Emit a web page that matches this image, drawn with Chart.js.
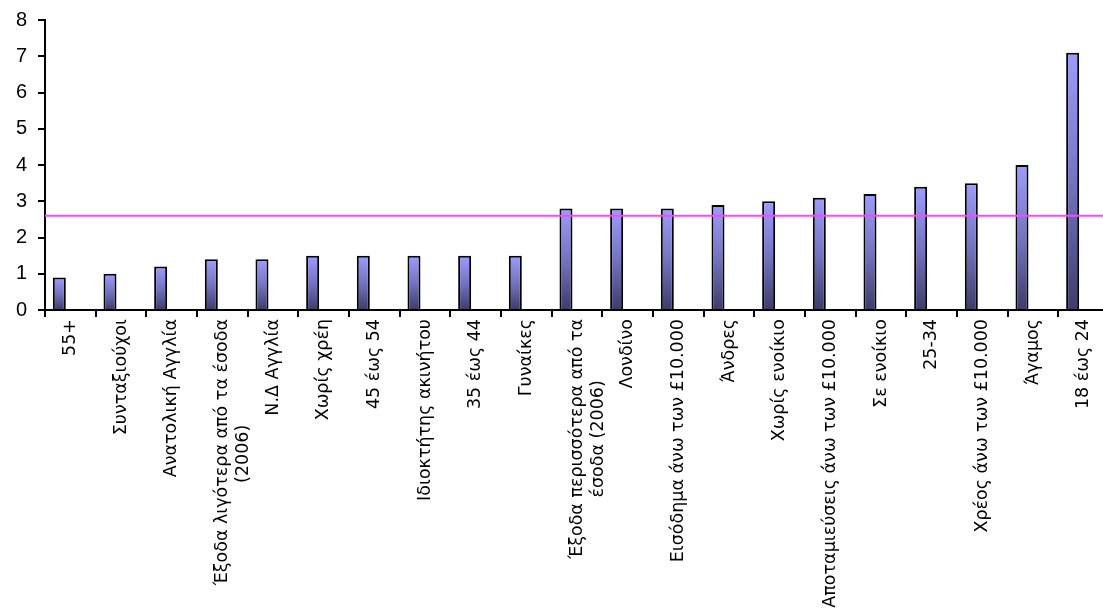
<!DOCTYPE html>
<html>
<head>
<meta charset="utf-8">
<script src="https://cdn.jsdelivr.net/npm/chart.js@4/dist/chart.umd.min.js"></script>
<style>
  html, body { margin: 0; padding: 0; background: #fff; overflow: hidden; }
  #wrap { position: relative; width: 1109px; height: 611px; }
</style>
</head>
<body>
<div id="wrap"><canvas id="chart"></canvas></div>
<script>
// categories (x axis), one bar each
const categories = [
  '55+', 'Συνταξιούχοι', 'Ανατολική Αγγλία',
  ['Έξοδα λιγότερα από τα έσοδα', '(2006)'],
  'Ν.Δ Αγγλία', 'Χωρίς χρέη', '45 έως 54', 'Ιδιοκτήτης ακινήτου', '35 έως 44', 'Γυναίκες',
  ['Έξοδα περισσότερα από τα', 'έσοδα (2006)'],
  'Λονδίνο', 'Εισόδημα άνω των £10.000', 'Άνδρες', 'Χωρίς ενοίκιο',
  'Αποταμιεύσεις άνω των £10.000', 'Σε ενοίκιο', '25-34', 'Χρέος άνω των £10.000', 'Άγαμος', '18 έως 24'
];
const values = [0.9, 1.0, 1.2, 1.4, 1.4, 1.5, 1.5, 1.5, 1.5, 1.5, 2.8, 2.8, 2.8, 2.9, 3.0, 3.1, 3.2, 3.4, 3.5, 4.0, 7.1];
const emptySeries = categories.map(() => null);   // second (empty) series, keeps bars off-centre like the original
const average = 2.6;
const yTicks = [0, 1, 2, 3, 4, 5, 6, 7, 8];

const xFont = { family: 'DejaVu Sans', size: 17.5 };
const yFont = { family: 'Liberation Sans', size: 20 };

// pad the shorter line of a two-line label so the block looks centred
const measure = document.createElement('canvas').getContext('2d');
measure.font = xFont.size + 'px "' + xFont.family + '"';
function centreLines(label) {
  if (!Array.isArray(label)) return label;
  const widths = label.map(l => measure.measureText(l).width);
  const max = Math.max(...widths);
  const sp = measure.measureText('\u00A0').width;
  return label.map((l, i) => l + '\u00A0'.repeat(Math.round((max - widths[i]) / 2 / sp)));
}

function barGradient(ctx) {
  const chart = ctx.chart;
  const y = chart.scales.y;
  if (!chart.chartArea || ctx.raw == null) return '#8888ee';
  const top = y.getPixelForValue(ctx.raw);
  const bottom = y.getPixelForValue(0);
  const g = chart.ctx.createLinearGradient(0, top, 0, bottom);
  g.addColorStop(0, '#9c9cff');
  g.addColorStop(0.5, '#7474c4');
  g.addColorStop(1, '#3c3c6c');
  return g;
}

// horizontal average line across the whole plot, placed by the y scale
const averageLine = {
  id: 'averageLine',
  afterDatasetsDraw(chart) {
    const { ctx, chartArea, scales } = chart;
    const yPx = scales.y.getPixelForValue(average);
    ctx.save();
    ctx.strokeStyle = '#ff44ff';
    ctx.lineWidth = 2;
    ctx.beginPath();
    ctx.moveTo(chartArea.left, yPx);
    ctx.lineTo(chartArea.right, yPx);
    ctx.stroke();
    ctx.restore();
  }
};

new Chart(document.getElementById('chart'), {
  type: 'bar',
  data: {
    labels: categories,
    datasets: [
      {
        data: values,
        backgroundColor: barGradient,
        borderColor: '#000',
        borderWidth: 2
      },
      {
        data: emptySeries
      }
    ]
  },
  options: {
    responsive: true,
    maintainAspectRatio: false,
    animation: false,
    categoryPercentage: 0.87,
    barPercentage: 0.59,
    layout: { padding: { top: 20, right: 0, left: 0, bottom: 0 } },
    plugins: { legend: { display: false }, tooltip: { enabled: false } },
    scales: {
      x: {
        grid: { drawOnChartArea: false, color: '#000', lineWidth: 2, tickLength: 7 },
        border: { color: '#000', width: 2 },
        ticks: {
          color: '#000',
          font: xFont,
          minRotation: 90,
          maxRotation: 90,
          autoSkip: false,
          padding: 2,
          callback: function (v, i) { return centreLines(categories[i]); }
        },
        afterFit: function (scale) { scale.height = 301; }
      },
      y: {
        min: 0,
        max: 8,
        afterBuildTicks: function (scale) { scale.ticks = yTicks.map(v => ({ value: v })); },
        grid: { drawOnChartArea: false, color: '#000', lineWidth: 2, tickLength: 7 },
        border: { color: '#000', width: 2 },
        ticks: { color: '#000', font: yFont, padding: 11 },
        afterFit: function (scale) {
          scale.width = 45;
          scale.paddingTop = 0;
          scale.paddingBottom = 0;
        }
      }
    }
  },
  plugins: [averageLine]
});
</script>
</body>
</html>
